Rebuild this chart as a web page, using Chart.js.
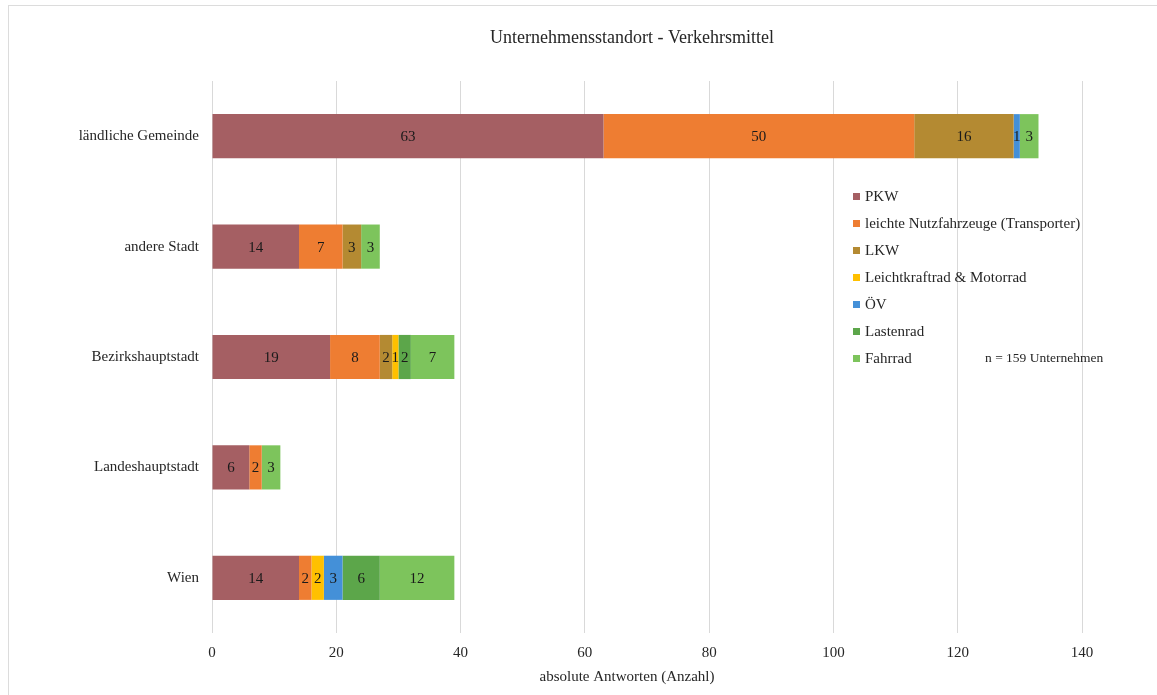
<!DOCTYPE html>
<html>
<head>
<meta charset="utf-8">
<script src="https://cdn.jsdelivr.net/npm/chart.js@4"></script>
<style>
  html, body { margin: 0; padding: 0; background: #fff; overflow: hidden; }
  #wrap { position: relative; width: 1157px; height: 695px; }
  #frame { position: absolute; left: 8px; top: 5px; width: 1170px; height: 720px; border: 1px solid #dcdcdc; pointer-events: none; }
</style>
</head>
<body>
<div id="wrap">
  <canvas id="myChart" width="1157" height="695"></canvas>
  <div id="frame"></div>
</div>
<script>
let categories = ['ländliche Gemeinde', 'andere Stadt', 'Bezirkshauptstadt', 'Landeshauptstadt', 'Wien']
let seriesNames = ['PKW', 'leichte Nutzfahrzeuge (Transporter)', 'LKW', 'Leichtkraftrad & Motorrad', 'ÖV', 'Lastenrad', 'Fahrrad']
let pkw = [63, 14, 19, 6, 14]
let transporter = [50, 7, 8, 2, 2]
let lkw = [16, 3, 2, 0, 0]
let motorrad = [0, 0, 1, 0, 2]
let oev = [1, 0, 0, 0, 3]
let lastenrad = [0, 0, 2, 0, 6]
let fahrrad = [3, 3, 7, 3, 12]
let xTicks = [0, 20, 40, 60, 80, 100, 120, 140]
let colors = ['#A55F63', '#EE7D32', '#B48A32', '#FFC000', '#4490D8', '#5CA64A', '#7DC45C']

let chartTitle = 'Unternehmensstandort - Verkehrsmittel'
let axisTitle = 'absolute Antworten (Anzahl)'
let noteText = 'n = 159 Unternehmen'

let serifFont = "'Liberation Serif', 'DejaVu Serif', serif"
let textColor = '#262626'
let values = [pkw, transporter, lkw, motorrad, oev, lastenrad, fahrrad]

let datasets = []
for (let i = 0; i < seriesNames.length; i++) {
  datasets.push({
    label: seriesNames[i],
    data: values[i],
    backgroundColor: colors[i],
    borderWidth: 0,
    categoryPercentage: 0.4,
    barPercentage: 1
  })
}

// numbers in the middle of each segment
const segmentLabels = {
  id: 'segmentLabels',
  afterDatasetsDraw(chart) {
    let c = chart.ctx
    c.save()
    c.font = '15px ' + serifFont
    c.fillStyle = '#1a1a1a'
    c.textAlign = 'center'
    c.textBaseline = 'middle'
    chart.data.datasets.forEach((ds, i) => {
      let meta = chart.getDatasetMeta(i)
      meta.data.forEach((bar, j) => {
        if (ds.data[j] > 0) {
          let p = bar.getCenterPoint()
          c.fillText(ds.data[j], p.x, p.y + 1)
        }
      })
    })
    c.restore()
  }
}

// legend inside the plot, plus the title texts (placed like the original)
const innerLegend = {
  id: 'innerLegend',
  afterDraw(chart) {
    let c = chart.ctx
    c.save()
    c.textBaseline = 'middle'
    c.textAlign = 'left'
    c.font = '15px ' + serifFont
    let x = 853, y = 196
    chart.data.datasets.forEach((ds, i) => {
      c.fillStyle = ds.backgroundColor
      c.fillRect(x, y + i * 27 - 3, 7, 7)
      c.fillStyle = textColor
      c.fillText(ds.label, x + 12, y + i * 27 + 1)
    })
    c.font = '13.5px ' + serifFont
    c.fillText(noteText, 985, y + 6 * 27)

    c.textAlign = 'center'
    c.font = '18px ' + serifFont
    c.fillText(chartTitle, 632, 38)
    c.font = '15px ' + serifFont
    c.fillText(axisTitle, 627, 677)
    c.restore()
  }
}

let ctx = document.getElementById('myChart').getContext('2d')
const myChart = new Chart(ctx, {
  type: 'bar',
  data: { labels: categories, datasets: datasets },
  options: {
    indexAxis: 'y',
    responsive: false,
    animation: false,
    layout: { padding: { left: 8, right: 75, top: 81, bottom: 4 } },
    scales: {
      x: {
        stacked: true,
        min: 0,
        max: 140,
        afterBuildTicks: s => { s.ticks = xTicks.map(v => ({ value: v })) },
        afterFit: s => { s.height = 58 },
        grid: { color: '#d9d9d9', drawTicks: false },
        border: { display: false },
        ticks: { color: textColor, padding: 11, font: { family: serifFont, size: 15 } }
      },
      y: {
        stacked: true,
        afterFit: s => { s.width = 204 },
        grid: { display: false },
        border: { display: false },
        ticks: { color: textColor, padding: 5, font: { family: serifFont, size: 15 } }
      }
    },
    plugins: {
      legend: { display: false },
      tooltip: { enabled: false },
      title: { display: false }
    }
  },
  plugins: [segmentLabels, innerLegend]
})
</script>
</body>
</html>
